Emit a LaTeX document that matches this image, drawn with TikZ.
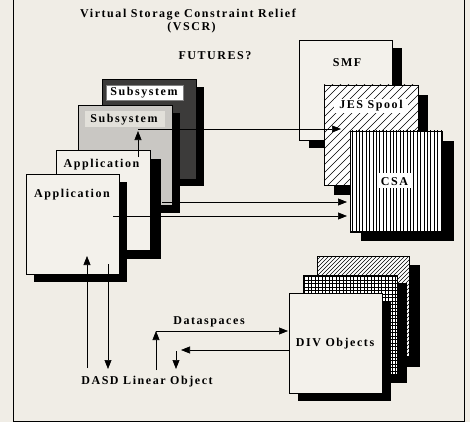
\documentclass[tikz,border=0pt]{standalone}
\usepackage{fontspec}
\setmainfont{Liberation Serif}
\newfontfamily\lbl[LetterSpace=13]{Liberation Serif}
\usetikzlibrary{arrows.meta}
\definecolor{bg}{HTML}{F0EDE6}
\definecolor{boxbg}{HTML}{F3F1EB}
\definecolor{lgray}{HTML}{C9C7C3}
\definecolor{lgraylab}{HTML}{E2E0DA}
\definecolor{dgray}{HTML}{3C3B3A}
\tikzset{
  frameline/.style={draw=black, line width=0.8pt},
  boxbody/.style={draw=black, line width=0.7pt, fill=boxbg, minimum width=#1, minimum height=100pt, anchor=north west, inner sep=0pt},
  boxbody/.default=94pt,
  shadowfill/.style={fill=black},
  lab/.style={font=\lbl\bfseries\fontsize{12}{14}\selectfont, inner sep=0pt, anchor=base},
  ln/.style={line width=0.6pt},
  arr/.style={line width=0.6pt, -{Triangle[length=9pt,width=7pt]}},
  hatch/.style={line width=0.45pt},
}
\begin{document}
\begin{tikzpicture}[x=1pt,y=-1pt]
\useasboundingbox (0,0) rectangle (470,422);
\fill[bg] (0,0) rectangle (470,422);
% frame
\draw[frameline] (13,0) -- (13,421) -- (464,421) -- (464,0);

% ---------------- left stack ----------------
% dark subsystem
\fill[shadowfill] (110,87) rectangle (204,186);
\node[boxbody, fill=dgray, line width=1.2pt] (sub2) at (102,79) {};
\fill[white] (106,85) rectangle (183,100);
\draw[gray, line width=0.5pt] (106,85) rectangle (183,100);
% gray subsystem
\fill[shadowfill] (86,113) rectangle (180,213);
\node[boxbody, fill=lgray] (sub1) at (78,105) {};
\fill[lgraylab] (85,111) rectangle (165,127);
% application back
\fill[shadowfill] (65,159) rectangle (161,259);
\node[boxbody] (app2) at (56,150) {};
% application front
\fill[shadowfill] (34,182) rectangle (127,282);
\node[boxbody=93pt] (app1) at (26,174) {};

\node[lab] (lsub2) at (144,96) {Subsystem};
\node[lab] (lsub1) at (124,123) {Subsystem};
\node[lab] (lapp2) at (101.5,167) {Application};
\node[lab] (lapp1) at (72,197) {Application};

% ---------------- right stack ----------------
% SMF
\fill[shadowfill] (309,48) rectangle (402,148);
\node[boxbody=93pt] (smf) at (299,40) {};
% JES Spool
\fill[shadowfill] (334,95) rectangle (428,195);
\node[boxbody, fill=white] (jes) at (324,85) {};
\begin{scope}
  \clip (324,85) rectangle (418,185);
  \foreach \c in {409,417,...,620} {\draw[hatch] ({\c-300},300) -- ({\c+100},-100);}
\end{scope}
\draw[line width=0.7pt] (324,85) rectangle (418,185);
\fill[white] (334,99) rectangle (408,113);
% CSA
\fill[shadowfill] (361,141) rectangle (454,241);
\node[boxbody=92pt, fill=white] (csa) at (350,131) {};
\begin{scope}
  \clip (350,131) rectangle (442,232);
  \foreach \x in {352.5,355.9,...,442} {\draw[hatch] (\x,120) -- (\x,240);}
\end{scope}
\draw[line width=0.7pt] (350,131) rectangle (442,232);
\fill[white] (377,173) rectangle (411,188);

\node[lab] (lsmf) at (347,67) {SMF};
\node[lab] (ljes) at (371,109) {JES Spool};
\node[lab] (lcsa) at (394.5,185) {CSA};

% ---------------- DIV stack ----------------
\fill[shadowfill] (328,265) rectangle (420,367);
\node[boxbody=92pt, fill=white] (divc) at (317,256) {};
\begin{scope}
  \clip (317,256) rectangle (409,357);
  \foreach \c in {573,577,...,770} {\draw[hatch, line width=0.4pt] ({\c-400},400) -- ({\c+100},-100);}
\end{scope}
\draw[line width=0.7pt] (317,256) rectangle (409,357);

\fill[shadowfill] (313,283) rectangle (407,383);
\node[boxbody, fill=white] (divb) at (303,275) {};
\begin{scope}
  \clip (303,275) rectangle (397,375);
  \foreach \x in {304.5,308,...,398} {\draw[hatch, line width=0.5pt] (\x,270) -- (\x,380);}
  \foreach \y in {276.5,280,...,376} {\draw[hatch, line width=0.5pt] (300,\y) -- (400,\y);}
\end{scope}
\draw[line width=0.7pt] (303,275) rectangle (397,375);

\fill[shadowfill] (298,301) rectangle (391,401);
\node[boxbody=93pt] (diva) at (289,293) {};
\node[lab] (ldiv) at (335,346) {DIV Objects};

% ---------------- titles and labels ----------------
\node[lab] (t1) at (188,18) {Virtual Storage Constraint Relief};
\node[lab] (t2) at (191.5,31) {(VSCR)};
\node[lab] (t3) at (215,60) {FUTURES?};
\node[lab] (ldata) at (209,324) {Dataspaces};
\node[lab] (ldasd) at (147,384) {DASD Linear Object};

% ---------------- connectors ----------------
\coordinate (p1s) at (138,157);
\coordinate (p1e) at (138,131);
\coordinate (p2s) at (138,129);
\coordinate (p2e) at (341,129);
\coordinate (p3s) at (162,202);
\coordinate (p3e) at (347,202);
\coordinate (p4s) at (113,216);
\coordinate (p4e) at (347,216);
\coordinate (p5s) at (87,368);
\coordinate (p5e) at (87,256);
\coordinate (p6s) at (108,264);
\coordinate (p6e) at (108,369);
\coordinate (p7s) at (156,370);
\coordinate (p7e) at (156,331);
\coordinate (p8e) at (288,331);
\coordinate (p9s) at (289,350);
\coordinate (p9e) at (181,350);
\coordinate (p10s) at (176,351);
\coordinate (p10e) at (176,369);

\draw[arr] (p1s) -- (p1e);
\draw[arr] (p2s) -- (p2e);
\draw[arr] (p3s) -- (p3e);
\draw[arr] (p4s) -- (p4e);
\draw[arr] (p5s) -- (p5e);
\draw[arr] (p6s) -- (p6e);
\draw[arr] (p7s) -- (p7e);
\draw[arr] (p7e) -- (p8e);
\draw[arr] (p9s) -- (p9e);
\draw[arr] (p10s) -- (p10e);
\end{tikzpicture}
\end{document}
